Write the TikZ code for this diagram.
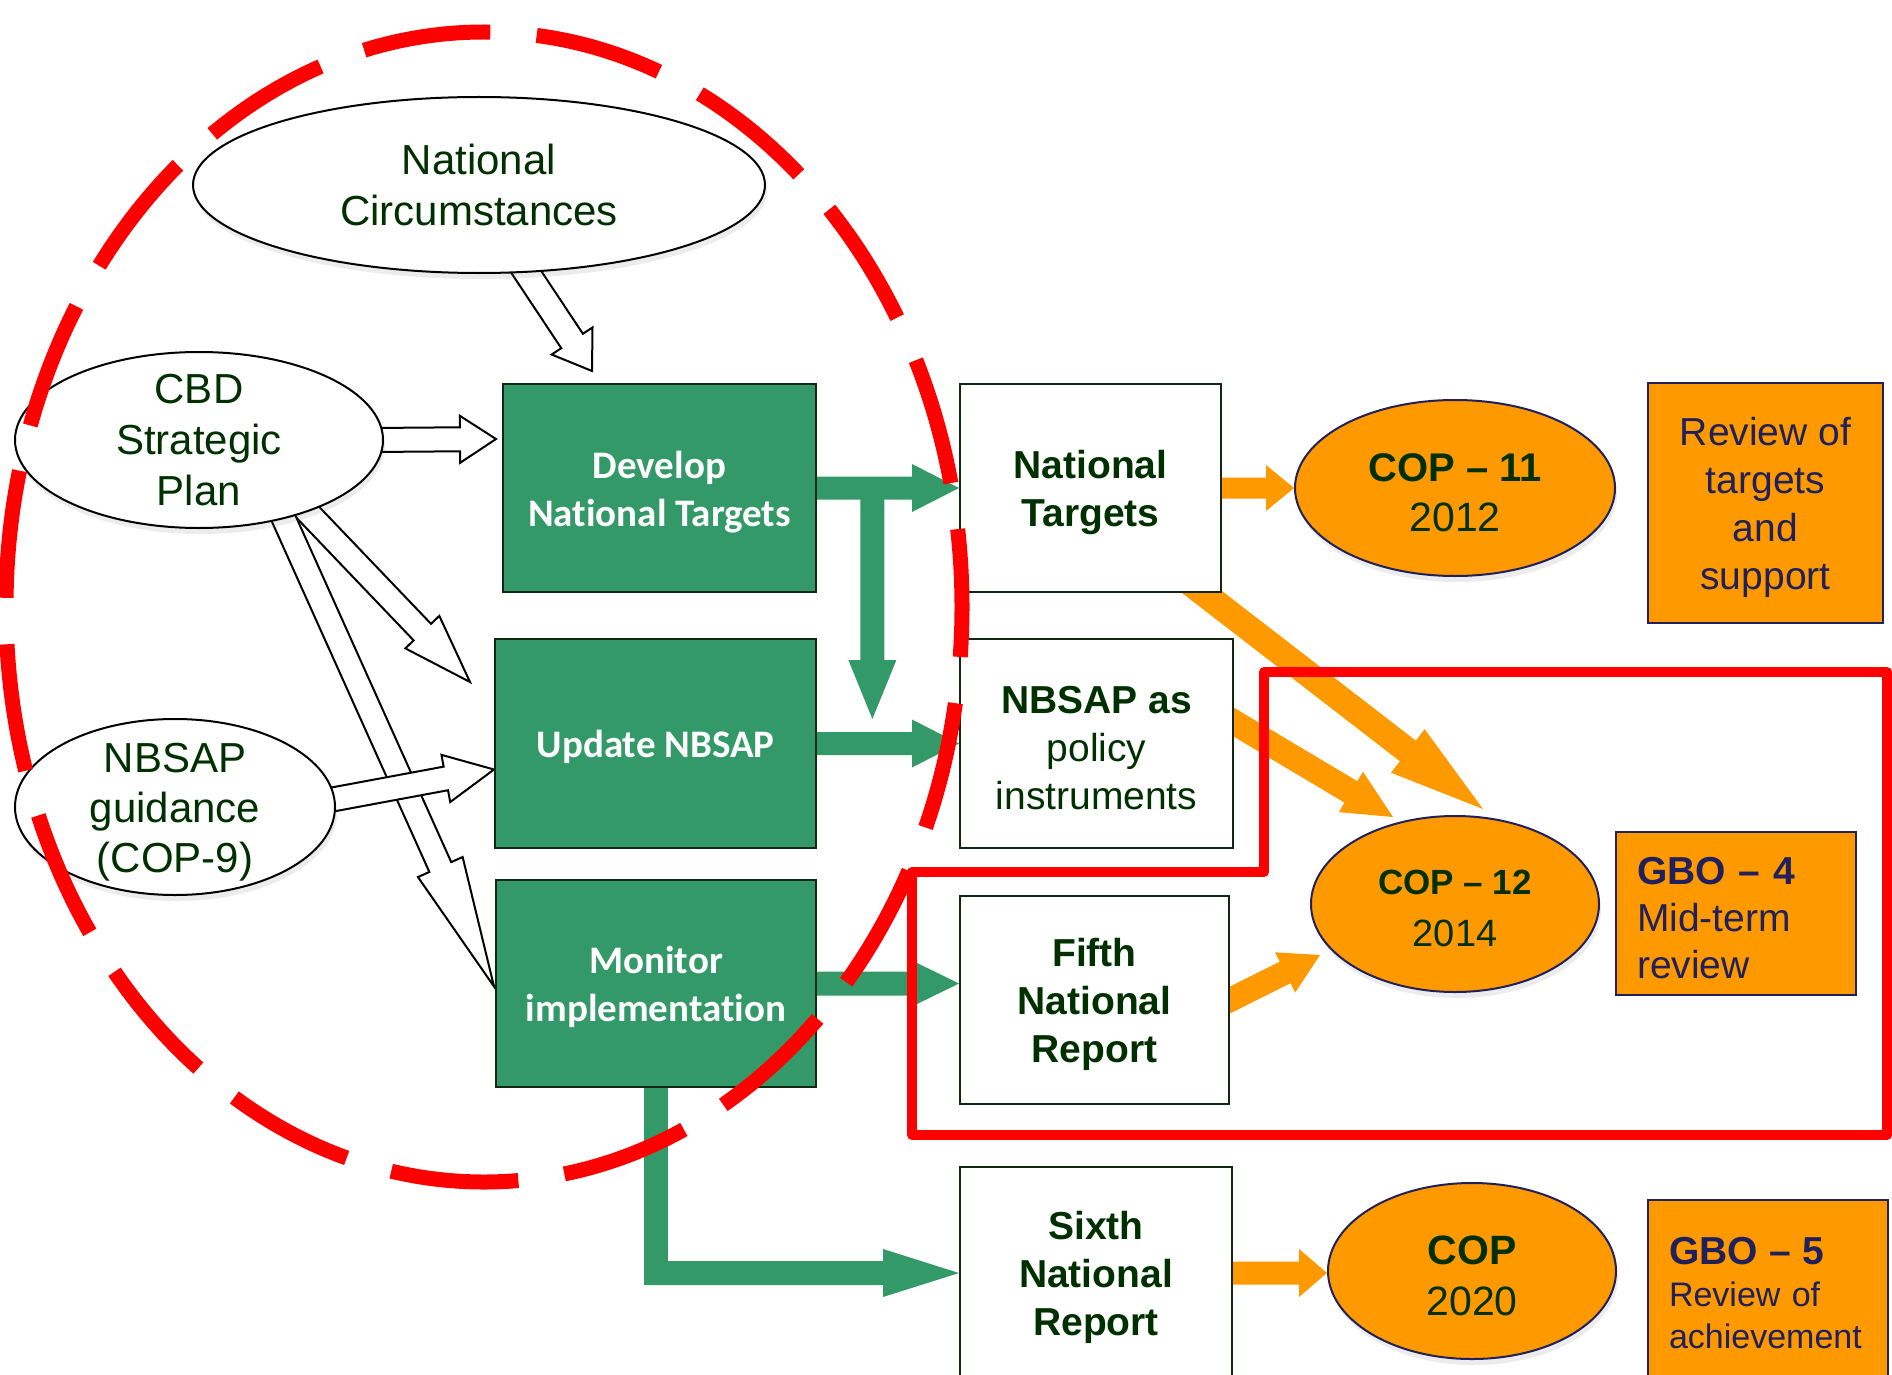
\documentclass[tikz,border=0pt]{standalone}
\usepackage{fontspec}
\setmainfont{Liberation Sans}[Ligatures={TeX,NoCommon}]
\newfontfamily\calib{Carlito}[Ligatures=NoCommon]
\usetikzlibrary{shapes.geometric,calc,shadows}
\pgfdeclarelayer{bg}
\pgfdeclarelayer{fg}
\pgfsetlayers{bg,main,fg}
\definecolor{cgreen}{RGB}{52,153,104}
\definecolor{corange}{RGB}{255,153,0}
\definecolor{ctext}{RGB}{0,48,0}
\definecolor{cnavy}{RGB}{31,32,92}
\definecolor{cborder}{RGB}{16,40,16}
\definecolor{cred}{RGB}{255,0,0}
\newcommand\tstrut[1]{\rule{0pt}{#1}}
% block arrow: [style]{start}{tip}{half shaft}{half head}{head length}
\newcommand\blockarrow[6][]{%
  \coordinate (bkS) at (#2);
  \coordinate (bkE) at (#3);
  \coordinate (bkP) at ($(bkE)!#6!(bkS)$);
  \path[#1] ($(bkS)!#4!90:(bkE)$) -- ($(bkP)!#4!-90:(bkS)$) -- ($(bkP)!#5!-90:(bkS)$) -- (bkE)
     -- ($(bkP)!#5!90:(bkS)$) -- ($(bkP)!#4!90:(bkS)$) -- ($(bkS)!#4!-90:(bkE)$) -- cycle;
}
\begin{document}
\begin{tikzpicture}[x=1pt,y=-1pt,
  wellipse/.style={ellipse, draw=black, line width=2pt, fill=white, inner sep=0pt,
     drop shadow={opacity=0.15, shadow xshift=2pt, shadow yshift=-6pt}},
  etext/.style={align=center, text=ctext, inner sep=0pt, font=\fontsize{42}{51}\selectfont},
  gbox/.style={rectangle, draw=cborder, line width=2pt, fill=cgreen, text=white, inner sep=0pt,
     align=center, font={\calib\bfseries\fontsize{39}{48}\selectfont}},
  wbox/.style={rectangle, draw=cborder, line width=2pt, fill=white, text=ctext, inner sep=0pt,
     align=center, font={\bfseries\fontsize{39}{48}\selectfont}},
  cop/.style={ellipse, draw=cnavy, line width=2pt, fill=corange, text=ctext, inner sep=0pt,
     align=center, drop shadow={opacity=0.15, shadow xshift=2pt, shadow yshift=-6pt}},
  obox/.style={rectangle, draw=cnavy, line width=2pt, fill=corange, text=cnavy, inner sep=0pt,
     align=center, font={\fontsize{39}{48}\selectfont}},
  hollow/.style={draw=black, fill=white, line width=2pt, line join=miter},
  garrow/.style={fill=cgreen},
  oarrow/.style={fill=corange},
  redline/.style={draw=cred, line width=10pt, line join=round},
  reddash/.style={draw=cred, line width=15pt, dash pattern=on 128pt off 46.5pt, dash phase=78pt}
]
\begin{pgfonlayer}{bg}
  \fill[white] (0,0) rectangle (1892,1375);
\end{pgfonlayer}
\useasboundingbox (0,0) rectangle (1892,1375);

% left ellipses
\node[wellipse, minimum width=572pt, minimum height=176pt] (nc) at (479,185) {};
\node[etext] (nct) at (nc.center) {National\\Circumstances};
\node[wellipse, minimum width=368pt, minimum height=176pt] (cbd) at (199,440) {};
\node[etext] (cbdt) at (cbd.center) {CBD\\Strategic\\Plan};
\node[wellipse, minimum width=320pt, minimum height=176pt] (guid) at (175,807) {};
\node[etext, font=\fontsize{42}{50}\selectfont] (guidt) at ($(guid.center)+(0,5)$) {NBSAP\\guidance\\(COP-9)};

% green boxes
\node[gbox, minimum width=313pt, minimum height=208pt] (dev) at (659.5,488) {\tstrut{35pt}Develop\\National Targets};
\node[gbox, minimum width=321pt, minimum height=209pt] (upd) at (655.5,743.5) {\tstrut{35pt}Update NBSAP};
\node[gbox, minimum width=320pt, minimum height=207pt] (mon) at (656,983.5) {\tstrut{35pt}Monitor\\implementation};

% white boxes
\node[wbox, minimum width=261pt, minimum height=208pt] (nt) at (1090.5,488) {\tstrut{37pt}National\\Targets};
\node[wbox, font=\fontsize{39}{48}\selectfont, minimum width=273pt, minimum height=209pt] (nbsap) at (1096.5,743.5) {\tstrut{37pt}\textbf{NBSAP as}\\policy\\instruments};
\node[wbox, minimum width=269pt, minimum height=208pt] (fifth) at (1094.5,1000) {\tstrut{37pt}Fifth\\National\\Report};
\node[wbox, minimum width=272pt, minimum height=212pt] (sixth) at (1096,1273) {\tstrut{37pt}Sixth\\National\\Report};

% COP ellipses
\node[cop, minimum width=320pt, minimum height=176pt, font=\fontsize{40}{50}\selectfont] (cop11) at (1455,488) {\tstrut{37pt}\textbf{COP – 11}\\{\fontsize{41}{50}\selectfont 2012}};
\node[cop, minimum width=288pt, minimum height=176pt, font=\fontsize{35}{52}\selectfont] (cop12) at (1455,904) {\tstrut{33pt}\textbf{COP – 12}\\{\fontsize{38}{52}\selectfont 2014}};
\node[cop, minimum width=288pt, minimum height=176pt, font=\fontsize{41}{51}\selectfont] (cop20) at (1472,1271) {\tstrut{38pt}\textbf{COP}\\2020};

% orange boxes
\node[obox, minimum width=235pt, minimum height=240pt] (rev) at (1765.5,503) {\tstrut{37pt}Review of\\targets\\and\\support};
\node[obox, align=left, text width=198pt, inner xsep=21pt, minimum height=163pt, font=\fontsize{39}{47}\selectfont] (gbo4) at (1736,913.5) {\tstrut{37pt}\textbf{GBO – 4}\\Mid-term\\review};
\node[obox, align=left, text width=198pt, inner xsep=21pt, minimum height=178pt, font=\fontsize{34}{42}\selectfont] (gbo5) at (1768,1289) {\tstrut{36pt}{\fontsize{39}{42}\selectfont\bfseries GBO – 5}\\Review of\\achievement};

% connectors
\begin{pgfonlayer}{bg}
  % hollow arrows
  \blockarrow[hollow]{$(nc.center)+(36,70)$}{$(dev.north west)+(90,-12)$}{13pt}{24.5pt}{36pt}
  \blockarrow[hollow]{$(cbd.east)+(-12,0)$}{$(dev.north west)+(-6,56)$}{12pt}{23.5pt}{36pt}
  \blockarrow[hollow]{$(cbd.center)+(98,61)$}{$(upd.north west)+(-24,44)$}{12pt}{23.5pt}{69pt}
  \blockarrow[hollow]{$(cbd.center)+(79,66)$}{$(mon.west)+(-1,3)$}{12pt}{24.5pt}{131pt}
  \blockarrow[hollow]{$(guid.center)+(144,-5)$}{$(upd.west)+(0,26)$}{12pt}{24pt}{49pt}
  % green arrows
  \blockarrow[garrow]{$(dev.east)+(-3,0)$}{nt.west}{11.5pt}{24pt}{47pt}
  \blockarrow[garrow]{$(dev.east)!0.39!(nt.west)$}{$(dev.east)!0.39!(nt.west)+(0,231)$}{12pt}{24pt}{59pt}
  \blockarrow[garrow]{$(upd.east)+(-3,0)$}{nbsap.west}{11.5pt}{24pt}{47pt}
  \blockarrow[garrow]{$(mon.east)+(-3,0)$}{mon.east -| fifth.west}{12pt}{21pt}{43pt}
  \fill[garrow] ($(mon.south)+(-12,-5)$) rectangle ($(mon.south |- sixth.west)+(12,12)$);
  \blockarrow[garrow]{$(mon.south |- sixth.west)+(-12,0)$}{sixth.west}{12pt}{24pt}{76pt}
  % orange arrows
  \blockarrow[oarrow]{$(nt.east)+(-3,0)$}{cop11.west}{10.5pt}{23pt}{28pt}
  \blockarrow[oarrow]{$(nt.south east)+(-42,-18)$}{$(cop12.center)+(28,-95)$}{13pt}{27.5pt}{95pt}
  \blockarrow[oarrow]{$(nbsap.east)+(-8,-26)$}{$(cop12.center)+(-62,-87)$}{12.5pt}{23.5pt}{49pt}
  \blockarrow[oarrow]{$(fifth.east)+(-7,3.5)$}{$(cop12.center)+(-135,51)$}{12pt}{22.5pt}{39pt}
  \blockarrow[oarrow]{$(sixth.east)+(-3,0)$}{sixth.east -| cop20.west}{11.5pt}{24pt}{28pt}
\end{pgfonlayer}

% red outlines
\begin{pgfonlayer}{fg}
  \path[reddash] (484,607) ellipse [x radius=478, y radius=575];
  \path[redline] (912,1135) -- (912,872) -- (1264,872) -- (1264,672) -- (1887,672) -- (1887,1135) -- cycle;
\end{pgfonlayer}
\end{tikzpicture}
\end{document}
